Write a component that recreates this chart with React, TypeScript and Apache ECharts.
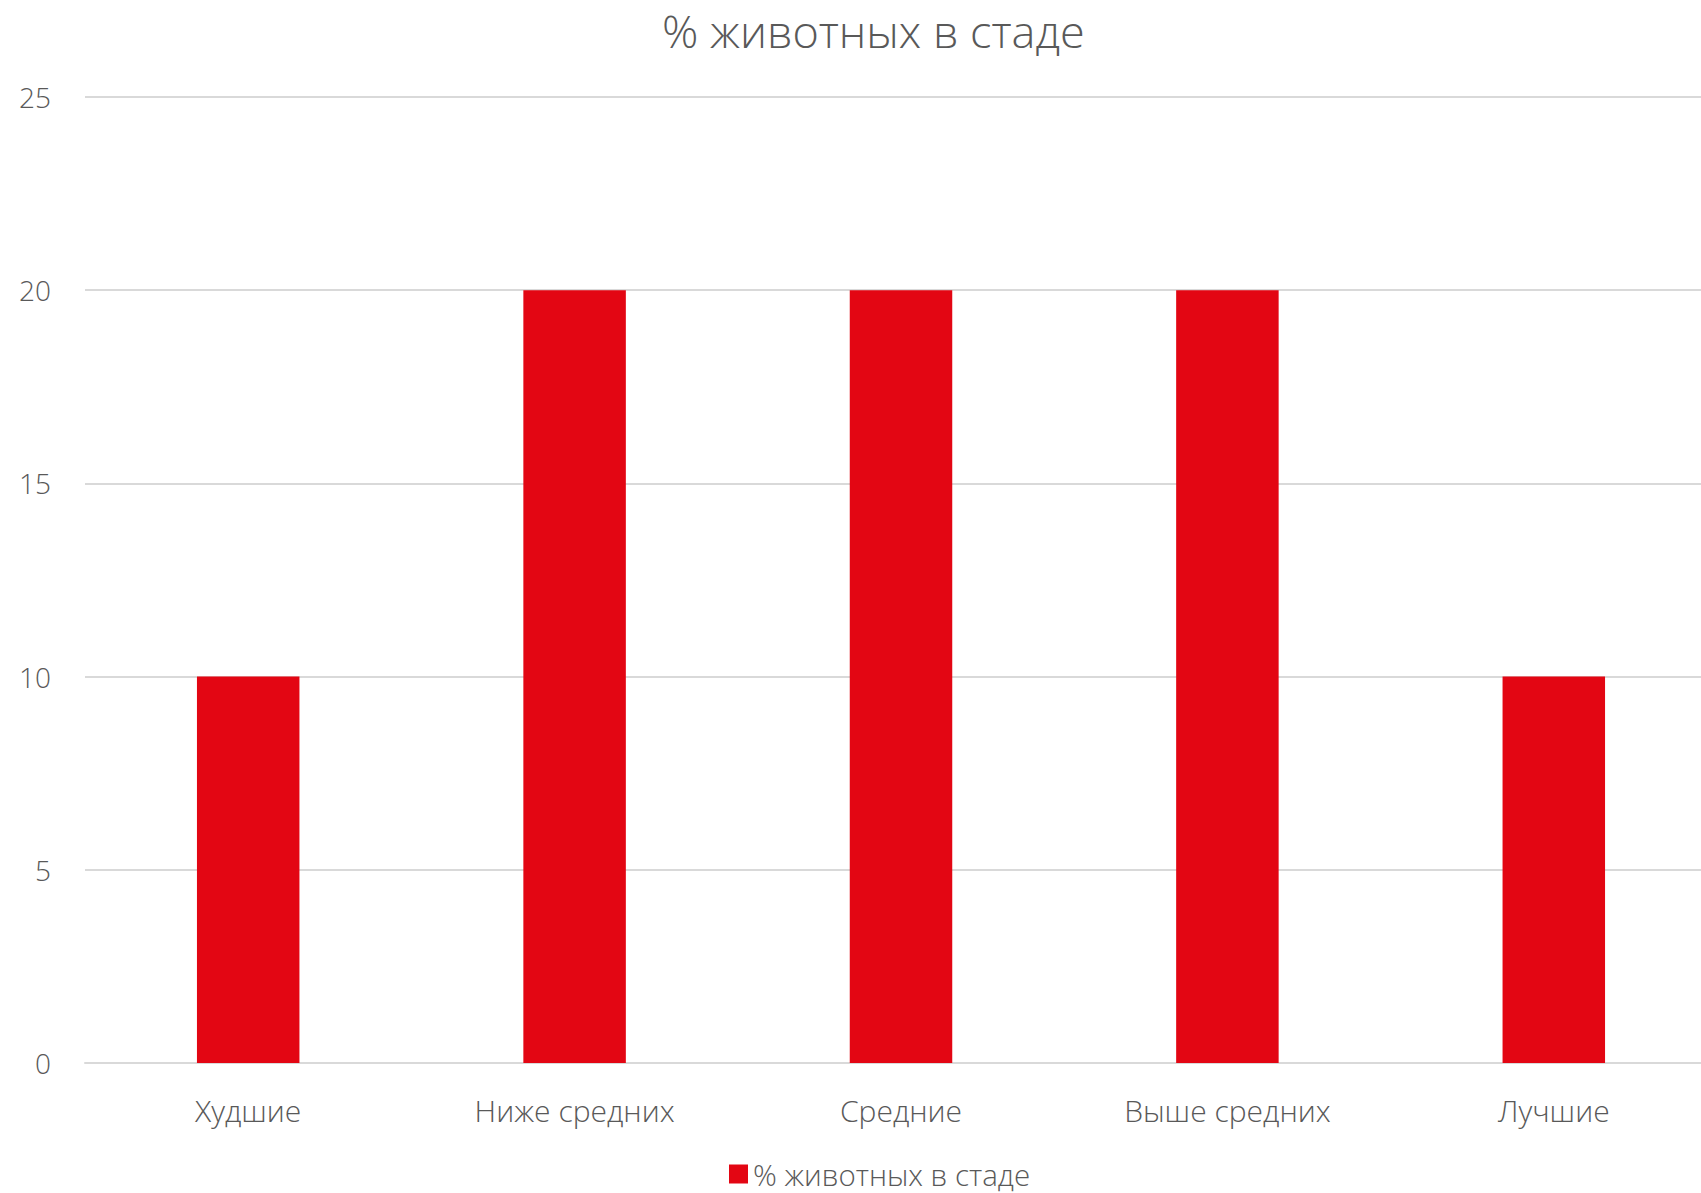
import React, { useEffect, useRef } from "react";
import * as echarts from "echarts";

const titleText = "% животных в стаде";
const seriesName = "% животных в стаде";
const categories = ["Худшие", "Ниже средних", "Средние", "Выше средних", "Лучшие"];
const values = [10, 20, 20, 20, 10];
const yTicks = { min: 0, max: 25, interval: 5 };

const FONT = "'Open Sans', 'Noto Sans', sans-serif";
const TEXT = "#595959";

export default function App() {
  const ref = useRef<HTMLDivElement>(null);
  useEffect(() => {
    if (!ref.current) return;
    const chart = echarts.init(ref.current, null, { renderer: "svg" });
    chart.setOption({
      animation: false,
      backgroundColor: "#ffffff",
      textStyle: { fontFamily: FONT },
      title: {
        text: titleText,
        left: 657,
        top: 3,
        textStyle: { fontFamily: FONT, fontWeight: 300, fontSize: 45, color: TEXT },
      },
      legend: {
        data: [seriesName],
        top: 1154,
        left: 724,
        itemWidth: 19,
        itemHeight: 19,
        itemGap: 8,
        icon: "rect",
        textStyle: { fontFamily: FONT, fontWeight: 300, fontSize: 29.5, lineHeight: 30, color: TEXT },
      },
      grid: { left: 85, right: 31, top: 97, bottom: 130, containLabel: false },
      xAxis: {
        type: "category",
        data: categories,
        axisLine: { show: true, lineStyle: { color: "#d9d9d9", width: 2 } },
        axisTick: { show: false },
        axisLabel: { margin: 32, fontFamily: FONT, fontWeight: 300, fontSize: 30, color: TEXT },
      },
      yAxis: {
        type: "value",
        min: yTicks.min,
        max: yTicks.max,
        interval: yTicks.interval,
        axisLine: { show: false },
        axisTick: { show: false },
        splitLine: { lineStyle: { color: "#d9d9d9", width: 2 } },
        axisLabel: { margin: 34, fontFamily: FONT, fontWeight: 300, fontSize: 28, color: TEXT },
      },
      series: [
        {
          name: seriesName,
          type: "bar",
          data: values,
          barWidth: "31.4%",
          itemStyle: { color: "#e30613" },
        },
      ],
    });
    return () => chart.dispose();
  }, []);
  return (
    <div style={{ position: "absolute", left: 0, top: 0, width: 1701, height: 1193, overflow: "hidden", background: "#fff" }}>
      <div ref={ref} style={{ width: 1748, height: 1193 }} />
    </div>
  );
}
